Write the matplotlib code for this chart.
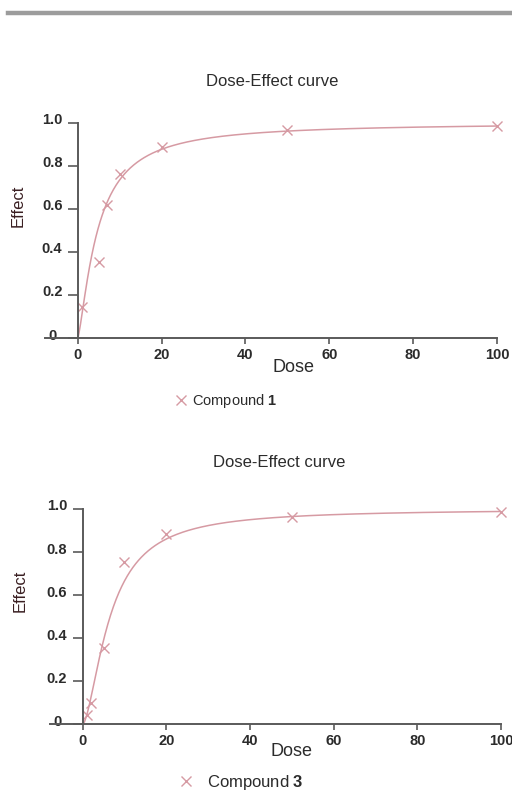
import numpy as np
import matplotlib
matplotlib.use("Agg")
import matplotlib.pyplot as plt
from matplotlib.lines import Line2D
from matplotlib.transforms import ScaledTranslation

# values
dose_1 = [1, 5, 7, 10, 20, 50, 100]
effect_1 = [0.145, 0.355, 0.62, 0.76, 0.885, 0.965, 0.985]
dose_3 = [1, 2, 5, 10, 20, 50, 100]
effect_3 = [0.045, 0.10, 0.355, 0.755, 0.885, 0.965, 0.985]

xticks = [0, 20, 40, 60, 80, 100]
yticks = [0, 0.2, 0.4, 0.6, 0.8, 1.0]
ytick_labels = ["0", "0.2", "0.4", "0.6", "0.8", "1.0"]

plt.rcParams['font.family'] = ['Liberation Sans', 'DejaVu Sans']
plt.rcParams['mathtext.fontset'] = 'custom'
plt.rcParams['mathtext.rm'] = 'Liberation Sans'
plt.rcParams['mathtext.bf'] = 'Liberation Sans:bold'

CURVE = '#d69aa3'
AXC = '#5a5a5a'
TXT = '#2b2b2b'


def median_effect_fit(d, fa):
    d = np.asarray(d, float)
    fa = np.asarray(fa, float)
    m, b = np.polyfit(np.log10(d), np.log10(fa / (1 - fa)), 1)
    dm = 10 ** (-b / m)
    return m, dm


def panel(fig, rect, dose, effect, label, title_xy, ylab_xy, xlab_xy,
          leg_xy, leg_size, leg_pad):
    ax = fig.add_axes(rect)
    m, dm = median_effect_fit(dose, effect)
    xs = np.linspace(0, 100, 600)
    ys = np.zeros_like(xs)
    pos = xs > 0
    ys[pos] = 1.0 / (1.0 + (dm / xs[pos]) ** m)
    ax.plot(xs, ys, color=CURVE, lw=1.1)
    ax.plot(dose, effect, 'x', color=CURVE, ms=7, mew=1.0, clip_on=False)

    ax.set_xlim(-7.8, 100)
    ax.set_ylim(0, 1.0)
    for s in ['top', 'right']:
        ax.spines[s].set_visible(False)
    ax.spines['left'].set_position(('data', 0))
    for s in ['left', 'bottom']:
        ax.spines[s].set_color(AXC)
        ax.spines[s].set_linewidth(1.4)
    ax.set_xticks(xticks)
    ax.set_yticks(yticks)
    ax.set_yticklabels(ytick_labels)
    ax.tick_params(axis='x', direction='out', length=4, width=1.2, color=AXC,
                   labelsize=10.5, labelcolor=TXT, pad=3)
    ax.tick_params(axis='y', direction='out', length=7, width=1.2, color=AXC,
                   labelsize=10.5, labelcolor=TXT, pad=4)
    for t in ax.get_xticklabels() + ax.get_yticklabels():
        t.set_fontweight('bold')
    ylabels = ax.get_yticklabels()
    for i, t in enumerate(ylabels):
        dx = -6 / 100 if i == 0 else 0
        t.set_transform(t.get_transform() +
                        ScaledTranslation(dx, 4 / 100, fig.dpi_scale_trans))

    fig.text(title_xy[0] / 512, 1 - title_xy[1] / 791, "Dose-Effect curve",
             ha='center', va='center', fontsize=12, color=TXT)
    fig.text(ylab_xy[0] / 512, 1 - ylab_xy[1] / 791, "Effect", rotation=90,
             ha='center', va='center', fontsize=12, color='#3a1f22')
    fig.text(xlab_xy[0] / 512, 1 - xlab_xy[1] / 791, "Dose",
             ha='center', va='center', fontsize=13, color=TXT)

    h = Line2D([], [], ls='none', marker='x', color=CURVE, ms=7, mew=1.0)
    ax.legend([h], ["Compound $\\mathbf{" + label + "}$"], frameon=False,
              loc='center left', bbox_to_anchor=(leg_xy[0] / 512, 1 - leg_xy[1] / 791),
              bbox_transform=fig.transFigure, borderpad=0, borderaxespad=0,
              handlelength=0.6, handletextpad=leg_pad, fontsize=leg_size,
              labelcolor=TXT)
    return ax


fig = plt.figure(figsize=(5.12, 7.91), dpi=100)
fig.add_artist(Line2D([8 / 512, 1], [1 - 13 / 791] * 2, color='#9c9c9c', lw=3.2))

panel(fig, [45 / 512, (791 - 338) / 791, 452 / 512, 215.3 / 791],
      dose_1, effect_1, "1", (272, 82), (18, 206), (294, 368), (177, 401),
      10.5, 0.4)
panel(fig, [50 / 512, (791 - 724.3) / 791, 451 / 512, 215.3 / 791],
      dose_3, effect_3, "3", (279, 463), (20, 591), (291, 752), (181, 782),
      12, 0.95)

fig.savefig("out.png", dpi=100)
